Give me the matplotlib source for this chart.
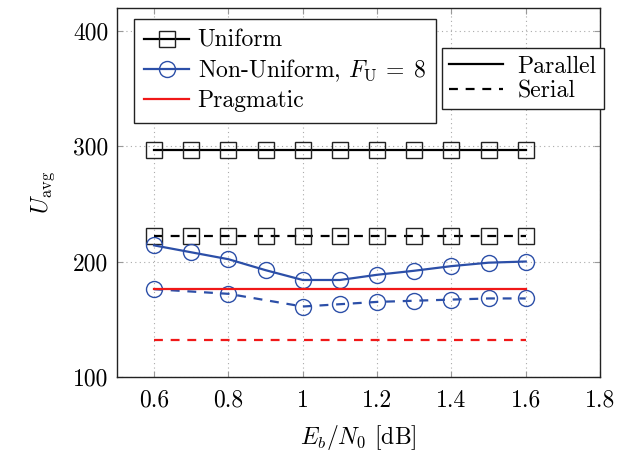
import matplotlib
matplotlib.use("Agg")
import matplotlib.pyplot as plt
from matplotlib.lines import Line2D

plt.rcParams['font.family'] = 'serif'
plt.rcParams['font.serif'] = ['cmr10']
plt.rcParams['mathtext.fontset'] = 'cm'
plt.rcParams['axes.formatter.use_mathtext'] = True
plt.rcParams['font.size'] = 17

# data
ebn0 = [0.6, 0.7, 0.8, 0.9, 1.0, 1.1, 1.2, 1.3, 1.4, 1.5, 1.6]
uniform_par = [297] * 11
uniform_ser = [222] * 11
nonuni_par = [214, 208, 202, 192.5, 184, 184, 188.5, 192, 196, 199, 200]
ebn0_nu_ser = [0.6, 0.8, 1.0, 1.1, 1.2, 1.3, 1.4, 1.5, 1.6]
nonuni_ser = [176, 172, 161, 163, 165, 166, 167, 168, 168]
ebn0_prag = [0.6, 1.6]
prag_par = [176, 176]
prag_ser = [132, 132]

xticks = [0.6, 0.8, 1.0, 1.2, 1.4, 1.6, 1.8]
xticklabels = ['0.6', '0.8', '1', '1.2', '1.4', '1.6', '1.8']
yticks = [100, 200, 300, 400]

blue = '#2c4fa8'
red = '#f01818'
dash = (0, (4, 3.5))

fig = plt.figure(figsize=(6.39, 4.53), dpi=100)
ax = fig.add_axes([0.183, 0.168, 0.756, 0.815])

sq = dict(marker='s', markersize=11.5, markerfacecolor='none',
          markeredgecolor='#222222', markeredgewidth=1.0)
ci = dict(marker='o', markersize=11.5, markerfacecolor='none',
          markeredgecolor=blue, markeredgewidth=1.0)

ax.plot(ebn0, uniform_par, color='black', lw=1.6, **sq)
ax.plot(ebn0, uniform_ser, color='black', lw=1.6, linestyle=dash, **sq)
ax.plot(ebn0, nonuni_par, color=blue, lw=1.6, **ci)
ax.plot(ebn0_nu_ser, nonuni_ser, color=blue, lw=1.6, linestyle=dash, **ci)
ax.plot(ebn0_prag, prag_par, color=red, lw=1.6)
ax.plot(ebn0_prag, prag_ser, color=red, lw=1.6, linestyle=dash)

ax.set_xlim(0.5, 1.8)
ax.set_ylim(100, 420)
ax.set_xticks(xticks)
ax.set_xticklabels(xticklabels)
ax.set_yticks(yticks)
ax.set_yticklabels([str(v) for v in yticks])
ax.tick_params(direction='in', length=4, color='#999999', top=True, right=True,
               labelsize=17)
ax.tick_params(axis='x', pad=9)
ax.tick_params(axis='y', pad=6)
ax.grid(True, linestyle=(0, (1, 3)), color='#aaaaaa', lw=0.8)
for s in ax.spines.values():
    s.set_linewidth(1.0)
    s.set_color('#222222')

ax.set_xlabel(r'$E_b/N_0$ [dB]', fontsize=17, labelpad=8)
ax.set_ylabel(r'$U_{\mathrm{avg}}$', fontsize=17, labelpad=12)

h1 = [
    Line2D([], [], color='black', lw=1.6, **sq),
    Line2D([], [], color=blue, lw=1.6, **ci),
    Line2D([], [], color=red, lw=1.6),
]
leg1 = ax.legend(h1, ['Uniform', r'Non-Uniform, $F_{\mathrm{U}}\:=\:8$', 'Pragmatic'],
                 loc='upper left', bbox_to_anchor=(0.035, 0.969), borderaxespad=0,
                 fancybox=False, framealpha=1, edgecolor='#222222',
                 handlelength=1.9, handletextpad=0.35, labelspacing=0.25,
                 borderpad=0.45, fontsize=17)
leg1.get_frame().set_linewidth(1.0)
ax.add_artist(leg1)

h2 = [
    Line2D([], [], color='black', lw=1.6),
    Line2D([], [], color='black', lw=1.6, linestyle=dash),
]
leg2 = ax.legend(h2, ['Parallel', 'Serial'],
                 loc='upper left', bbox_to_anchor=(0.673, 0.89), borderaxespad=0,
                 fancybox=False, framealpha=1, edgecolor='#222222',
                 handlelength=2.3, handletextpad=0.6, labelspacing=0.1,
                 borderpad=0.3, fontsize=17)
leg2.get_frame().set_linewidth(1.0)

fig.savefig('out.png', dpi=100)
